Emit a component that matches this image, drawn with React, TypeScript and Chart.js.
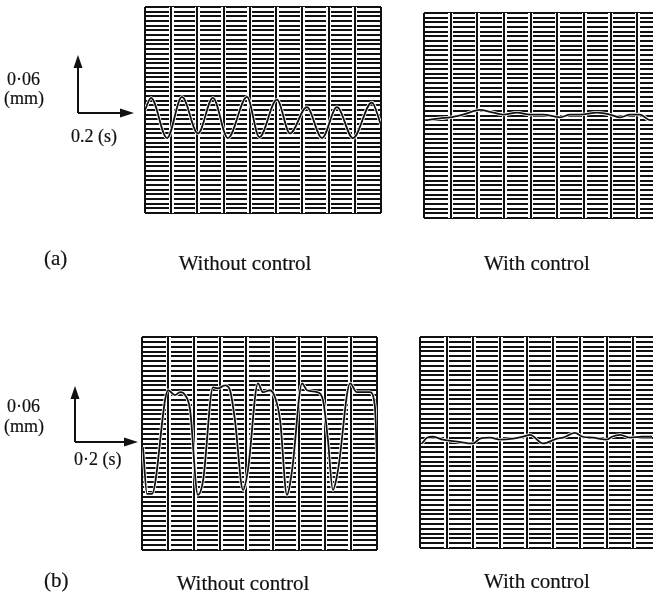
import React, { useEffect, useRef } from "react";
import { Chart, registerables } from "chart.js";

Chart.register(...registerables);

// Time axis (ms) and displacement axis (µm); one chart-paper column = 100 ms, one row = 5 µm
const TIME_MIN = 0;
const TIME_MAX = 900;
const TIME_STEP = 100;
const DISP_MIN = -110;
const DISP_MAX = 110;
const DISP_STEP = 5;

// (a) without control
const A_OFF_T = [0, 23, 84, 141, 202, 259, 316, 389, 436, 503, 553, 617, 675, 732, 793, 865, 900];
const A_OFF_Y = [0, 13, -30, 14, -25, 13, -30, 14, -29, 11, -25, 3, -30, 3, -30, 8, -16];

// (a) with control
const A_ON_T = [4, 60, 98, 146, 210, 248, 296, 349, 398, 446, 510, 548, 585, 649, 698, 735, 773, 810, 848, 900];
const A_ON_Y = [-5, -3, -2, 1, 6, 4, 1, 3, 1, 1, -2, 1, 1, 3, 1, -2, 1, 1, -5, -3];

// (b) without control
const B_OFF_T = [4, 19, 38, 100, 126, 146, 165, 184, 214, 234, 272, 291, 318, 337, 356, 387, 406, 444, 463, 490, 509, 529, 555, 575, 613, 632, 670, 693, 712, 731, 751, 797, 823, 873, 892, 900];
const B_OFF_Y = [-4, -52, -52, 55, 50, 53, 50, 35, -53, -38, 58, 57, 60, 55, 24, -48, -27, 62, 53, 55, 48, 24, -53, -27, 62, 55, 53, 45, 4, -48, -27, 62, 53, 53, 38, -17];

// (b) with control
const B_ON_T = [8, 26, 49, 86, 139, 199, 225, 263, 300, 349, 386, 413, 461, 514, 536, 581, 611, 649, 701, 720, 750, 788, 833, 870];
const B_ON_Y = [-1, 5, 6, 3, 1, -1, 4, 5, 3, 4, 6, 8, -1, 4, 5, 10, 6, 5, 3, 6, 8, 5, 6, 6];

const PAD = 3;

type PanelProps = { left: number; top: number; width: number; height: number; t: number[]; y: number[] };

function Panel({ left, top, width, height, t, y }: PanelProps) {
  const ref = useRef<HTMLCanvasElement>(null);
  useEffect(() => {
    const pts = t.map((v, i) => ({ x: v, y: y[i] }));
    const nCols = (TIME_MAX - TIME_MIN) / TIME_STEP;
    const chart = new Chart(ref.current as HTMLCanvasElement, {
      type: "line",
      data: {
        datasets: [
          { data: pts, borderColor: "#111", borderWidth: 1.8, pointRadius: 0, cubicInterpolationMode: "monotone", order: 1 },
          { data: pts, borderColor: "#fff", borderWidth: 3.4, pointRadius: 0, cubicInterpolationMode: "monotone", order: 2 },
        ],
      },
      options: {
        animation: false,
        responsive: false,
        events: [],
        layout: { padding: PAD },
        plugins: { legend: { display: false }, tooltip: { enabled: false } },
        scales: {
          x: {
            type: "linear",
            min: TIME_MIN,
            max: TIME_MAX,
            ticks: { display: false, stepSize: TIME_STEP },
            grid: { color: "#111", lineWidth: 2, drawTicks: false, z: -1 },
            border: { display: false },
          },
          xGap: {
            type: "linear",
            axis: "x",
            position: "bottom",
            min: TIME_MIN,
            max: TIME_MAX,
            ticks: { display: false, stepSize: TIME_STEP },
            grid: {
              color: "#fff",
              lineWidth: (c: any) => (c.index === 0 || c.index === nCols ? 0 : 5),
              drawTicks: false,
              z: -2,
            },
            border: { display: false },
          },
          y: {
            type: "linear",
            min: DISP_MIN,
            max: DISP_MAX,
            ticks: { display: false, stepSize: DISP_STEP },
            grid: { color: "#111", lineWidth: 2, drawTicks: false, z: -3 },
            border: { display: false },
          },
        },
      } as any,
    });
    return () => chart.destroy();
  }, []);
  return (
    <canvas
      ref={ref}
      width={width + 2 * PAD}
      height={height + 2 * PAD}
      style={{ position: "absolute", left: left - PAD, top: top - PAD, width: width + 2 * PAD, height: height + 2 * PAD }}
    />
  );
}

const SERIF = "'Liberation Serif', 'Times New Roman', serif";

export default function App() {
  return (
    <div style={{ position: "fixed", left: 0, top: 0, width: 653, height: 609, overflow: "hidden", background: "#fff" }}>
      <Panel left={145} top={7} width={236} height={206} t={A_OFF_T} y={A_OFF_Y} />
      <Panel left={424} top={13} width={240} height={205} t={A_ON_T} y={A_ON_Y} />
      <Panel left={142} top={337} width={235} height={213} t={B_OFF_T} y={B_OFF_Y} />
      <Panel left={420} top={337} width={240} height={211} t={B_ON_T} y={B_ON_Y} />
      <svg width={653} height={609} style={{ position: "absolute", left: 0, top: 0 }}>
        <g stroke="#111" strokeWidth={2} fill="none">
          <line x1={78} y1={113} x2={78} y2={64} />
          <line x1={78} y1={113} x2={122} y2={113} />
          <line x1={75} y1={442} x2={75} y2={394} />
          <line x1={75} y1={442} x2={126} y2={442} />
        </g>
        <g fill="#111">
          <polygon points="78,55 73.5,68 82.5,68" />
          <polygon points="134,113 120,108.5 120,117.5" />
          <polygon points="75,386 70.5,399 79.5,399" />
          <polygon points="138,442 124,437.5 124,446.5" />
        </g>
        <g fontFamily={SERIF} fill="#111" stroke="#111" strokeWidth={0.2} fontSize={18}>
          <text x={7} y={85}>0·06</text>
          <text x={4} y={104}>(mm)</text>
          <text x={71} y={142}>0.2 (s)</text>
          <text x={7} y={412}>0·06</text>
          <text x={4} y={432}>(mm)</text>
          <text x={74} y={465}>0·2 (s)</text>
        </g>
        <g fontFamily={SERIF} fill="#111" stroke="#111" strokeWidth={0.2} fontSize={21}>
          <text x={44} y={265}>(a)</text>
          <text x={245} y={270} textAnchor="middle">Without control</text>
          <text x={537} y={270} textAnchor="middle">With control</text>
          <text x={44} y={587}>(b)</text>
          <text x={243} y={590} textAnchor="middle">Without control</text>
          <text x={537} y={588} textAnchor="middle">With control</text>
        </g>
      </svg>
    </div>
  );
}
